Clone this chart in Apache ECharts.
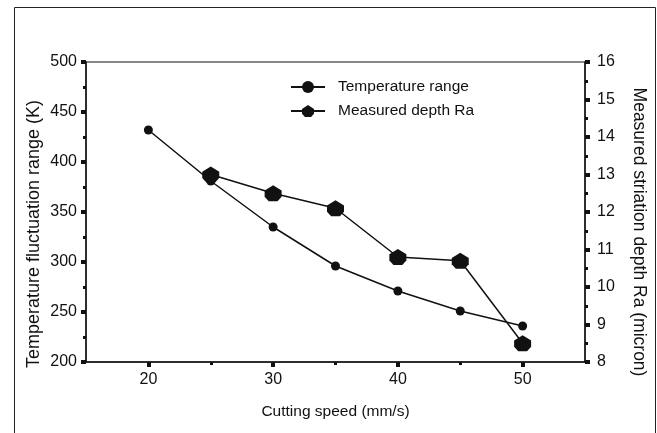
<!DOCTYPE html>
<html>
<head>
<meta charset="utf-8">
<script src="https://cdn.jsdelivr.net/npm/echarts@6/dist/echarts.min.js"></script>
<style>
html,body{margin:0;padding:0;background:#fff;}
#c{width:657px;height:433px;}
</style>
</head>
<body>
<div id="c"></div>
<script>
const speeds = [20, 25, 30, 35, 40, 45, 50];
const tempRange = [432, 381, 335, 296, 271, 251, 236];
const depthSpeeds = [25, 30, 35, 40, 45, 50];
const depthRa = [13.0, 12.5, 12.1, 10.8, 10.7, 8.5];
const xMajorLabels = [20, 30, 40, 50];
const xMinorTicks = [25, 35, 45];

const FONT = 'Liberation Sans, Arial, sans-serif';
const INK = '#111';
const hexPath = 'path://M0.5,0 L1,0.33 L1,0.72 L0.76,1 L0.24,1 L0,0.72 L0,0.33 Z';

const chart = echarts.init(document.getElementById('c'), null, {renderer: 'canvas'});
chart.setOption({
  animation: false,
  backgroundColor: '#fff',
  textStyle: {fontFamily: FONT, color: INK},
  graphic: [{
    type: 'rect', left: 12, top: 5, silent: true,
    shape: {width: 641, height: 440},
    style: {fill: 'none', stroke: '#222', lineWidth: 1}
  }],
  grid: {left: 86, right: 72, top: 62, bottom: 71, show: true, borderColor: INK, borderWidth: 1, backgroundColor: 'transparent'},
  legend: {
    orient: 'vertical', left: 285, top: 74, itemWidth: 34, itemHeight: 15, itemGap: 8,
    textStyle: {fontFamily: FONT, fontSize: 15.5, color: INK, padding: [0, 0, 0, 8]},
    data: ['Temperature range', 'Measured depth Ra']
  },
  xAxis: [{
    type: 'value', min: 15, max: 55, position: 'bottom',
    name: 'Cutting speed (mm/s)', nameLocation: 'middle', nameGap: 42,
    nameTextStyle: {fontFamily: FONT, fontSize: 15.5, color: INK},
    axisLine: {show: true, lineStyle: {color: INK, width: 1.5}},
    axisTick: {show: true, customValues: xMajorLabels, length: 5, lineStyle: {color: INK, width: 4}},
    axisLabel: {customValues: xMajorLabels, fontFamily: FONT, fontSize: 16, color: INK, margin: 10},
    splitLine: {show: false}
  }, {
    type: 'value', min: 15, max: 55, position: 'bottom',
    axisLine: {show: false},
    axisTick: {show: true, customValues: xMinorTicks, length: 3, lineStyle: {color: INK, width: 3}},
    axisLabel: {show: false},
    splitLine: {show: false}
  }],
  yAxis: [{
    type: 'value', min: 200, max: 500, interval: 50, position: 'left',
    name: 'Temperature fluctuation range (K)', nameLocation: 'middle', nameGap: 43, nameRotate: 90,
    nameMoveOverlap: false,
    nameTextStyle: {fontFamily: FONT, fontSize: 18, color: INK, padding: [0, 44, 0, 0]},
    axisLine: {show: true, lineStyle: {color: INK, width: 1.5}},
    axisTick: {show: true, length: 5, lineStyle: {color: INK, width: 4}},
    minorTick: {show: true, splitNumber: 2, length: 3, lineStyle: {color: INK, width: 3}},
    axisLabel: {fontFamily: FONT, fontSize: 16, color: INK, margin: 9},
    splitLine: {show: false}
  }, {
    type: 'value', min: 8, max: 16, interval: 1, position: 'right',
    name: 'Measured striation depth Ra (micron)', nameLocation: 'middle', nameGap: 45, nameRotate: -90,
    nameTextStyle: {fontFamily: FONT, fontSize: 17.5, color: INK, padding: [0, 0, 0, 40]},
    axisLine: {show: true, lineStyle: {color: INK, width: 1.5}},
    axisTick: {show: true, length: 5, lineStyle: {color: INK, width: 4}},
    minorTick: {show: true, splitNumber: 2, length: 3, lineStyle: {color: INK, width: 3}},
    axisLabel: {fontFamily: FONT, fontSize: 16, color: INK, margin: 12},
    splitLine: {show: false}
  }],
  series: [{
    name: 'Temperature range', type: 'line', xAxisIndex: 0, yAxisIndex: 0,
    data: speeds.map((s, i) => [s, tempRange[i]]),
    symbol: 'circle', symbolSize: 9,
    lineStyle: {color: INK, width: 1.5},
    itemStyle: {color: INK}
  }, {
    name: 'Measured depth Ra', type: 'line', xAxisIndex: 0, yAxisIndex: 1,
    data: depthSpeeds.map((s, i) => [s, depthRa[i]]),
    symbol: hexPath, symbolSize: [17, 16], symbolKeepAspect: false,
    lineStyle: {color: INK, width: 1.5},
    itemStyle: {color: INK}
  }]
});
</script>
</body>
</html>
